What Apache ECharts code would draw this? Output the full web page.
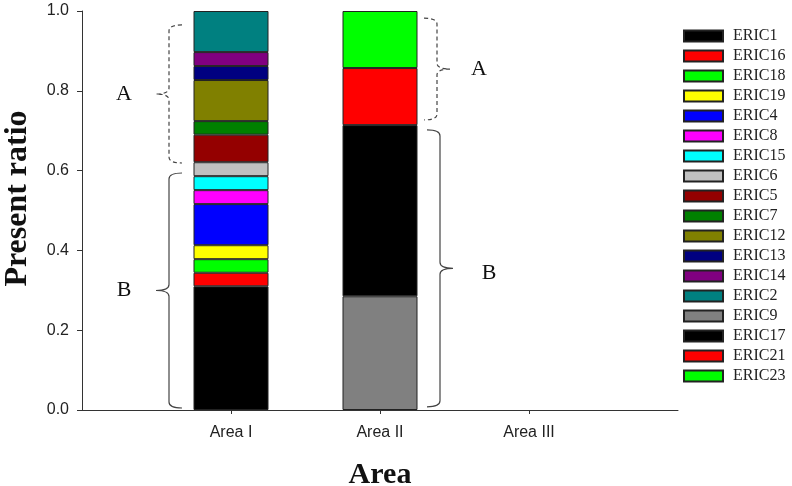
<!DOCTYPE html>
<html>
<head>
<meta charset="utf-8">
<script src="https://cdn.jsdelivr.net/npm/echarts@6/dist/echarts.min.js"></script>
<style>html,body{margin:0;padding:0;background:#fff}#main{width:792px;height:486px}</style>
</head>
<body>
<div id="main"></div>
<script>
const categories = ['', 'Area I', 'Area II', 'Area III', ''];
const yTicks = [0, 0.2, 0.4, 0.6, 0.8, 1.0];
const seriesNames = ['ERIC1','ERIC16','ERIC18','ERIC19','ERIC4','ERIC8','ERIC15','ERIC6','ERIC5','ERIC7','ERIC12','ERIC13','ERIC14','ERIC2','ERIC9','ERIC17','ERIC21','ERIC23'];
const seriesColors = ['#000000','#ff0000','#00ff00','#ffff00','#0000ff','#ff00ff','#00ffff','#c0c0c0','#940000','#008000','#808000','#000080','#800080','#008080','#808080','#000000','#ff0000','#00ff00'];
// values per series for Area I and Area II (null = absent)
const areaIValues  = [0.310,0.034,0.034,0.035,0.103,0.035,0.035,0.035,0.069,0.034,0.103,0.035,0.035,0.103,null,null,null,null];
const areaIIValues = [null,null,null,null,null,null,null,null,null,null,null,null,null,null,0.285,0.429,0.143,0.143];
const areaIIIValues = [null,null,null,null,null,null,null,null,null,null,null,null,null,null,null,null,null,null];
// brace annotations
const braceCategory = [1, 1, 2, 2];
const braceLabels = ['A', 'B', 'A', 'B'];
const braceFrom = [0.619, 0.005, 0.727, 0.008];
const braceTo = [0.965, 0.594, 0.982, 0.702];

const chart = echarts.init(document.getElementById('main'), null, {renderer: 'canvas'});

const barSeries = seriesNames.map((name, i) => ({
  name: name,
  type: 'bar',
  stack: 'total',
  barWidth: 75,
  itemStyle: {color: seriesColors[i], borderColor: '#222', borderWidth: 1},
  emphasis: {disabled: true},
  data: [null, areaIValues[i], areaIIValues[i], areaIIIValues[i], null]
}));

const braceSeries = {
  type: 'custom',
  silent: true,
  z: 5,
  encode: {x: 0, y: [1, 2]},
  data: braceCategory.map((c, i) => [c, braceFrom[i], braceTo[i]]),
  renderItem: function (params, api) {
    const idx = params.dataIndex;
    const cat = api.value(0);
    const top = api.coord([cat, api.value(2)]);
    const bot = api.coord([cat, api.value(1)]);
    const cx = top[0];
    const side = cat === 1 ? -1 : 1;       // left of bar for Area I, right for Area II
    const dashed = braceLabels[idx] === 'A';
    const x = cx + side * (side < 0 ? 62 : (dashed ? 57 : 60));
    const inw = -side;
    const yt = top[1], yb = bot[1], ym = (yt + yb) / 2;
    const h = 13, r = 6;
    const d = 'M' + (x + inw * h) + ',' + yt +
      ' Q' + x + ',' + yt + ' ' + x + ',' + (yt + r) +
      ' L' + x + ',' + (ym - r) +
      ' Q' + x + ',' + ym + ' ' + (x - inw * h) + ',' + ym +
      ' Q' + x + ',' + ym + ' ' + x + ',' + (ym + r) +
      ' L' + x + ',' + (yb - r) +
      ' Q' + x + ',' + yb + ' ' + (x + inw * h) + ',' + yb;
    const labelOffset = side < 0 ? 45 : (dashed ? 42 : 49);
    return {
      type: 'group',
      children: [
        {type: 'path', shape: {pathData: d},
         style: {fill: 'none', stroke: '#444', lineWidth: 1.2, lineDash: dashed ? [4, 3] : null}},
        {type: 'text', x: x + side * labelOffset, y: ym + (side > 0 && !dashed ? 5 : 0),
         style: {text: braceLabels[idx], fill: '#111', font: '22px "Liberation Serif", "Times New Roman", serif',
                 align: 'center', verticalAlign: 'middle'}}
      ]
    };
  }
};

chart.setOption({
  animation: false,
  backgroundColor: '#fff',
  grid: {left: 82, right: 114, top: 11, bottom: 76, containLabel: false, outerBoundsMode: 'none'},
  legend: {
    orient: 'vertical',
    left: 683,
    top: 28,
    padding: 0,
    itemWidth: 39,
    itemHeight: 11,
    itemGap: 4,
    icon: 'rect',
    selectedMode: false,
    data: seriesNames,
    textStyle: {fontFamily: '"Liberation Serif", "Times New Roman", serif', fontSize: 16, color: '#222', lineHeight: 16, padding: [0, 0, 0, 5]}
  },
  xAxis: {
    type: 'category',
    data: categories,
    boundaryGap: false,
    name: 'Area',
    nameLocation: 'middle',
    nameGap: 50,
    nameTextStyle: {fontFamily: '"Liberation Serif", "Times New Roman", serif', fontWeight: 'bold', fontSize: 30, color: '#111'},
    axisLine: {lineStyle: {color: '#333', width: 1}},
    axisTick: {show: true, length: 4, inside: false, interval: function (i) { return i >= 1 && i <= 3; }, lineStyle: {color: '#333'}},
    axisLabel: {interval: 0, margin: 15, fontFamily: '"Liberation Sans", Arial, sans-serif', fontSize: 16, color: '#222'},
    splitLine: {show: false}
  },
  yAxis: {
    type: 'value',
    min: yTicks[0],
    max: yTicks[yTicks.length - 1],
    interval: 0.2,
    name: 'Present ratio',
    nameLocation: 'middle',
    nameGap: 48,
    nameTextStyle: {fontFamily: '"Liberation Serif", "Times New Roman", serif', fontWeight: 'bold', fontSize: 32, color: '#111', padding: [0, 0, 0, 24]},
    axisLine: {show: true, lineStyle: {color: '#333', width: 1}},
    axisTick: {show: true, length: 5, lineStyle: {color: '#333'}},
    axisLabel: {margin: 13, fontFamily: '"Liberation Sans", Arial, sans-serif', fontSize: 16, color: '#222',
      formatter: function (v) { return v.toFixed(1); }},
    splitLine: {show: false}
  },
  series: barSeries.concat([braceSeries])
});
</script>
</body>
</html>
